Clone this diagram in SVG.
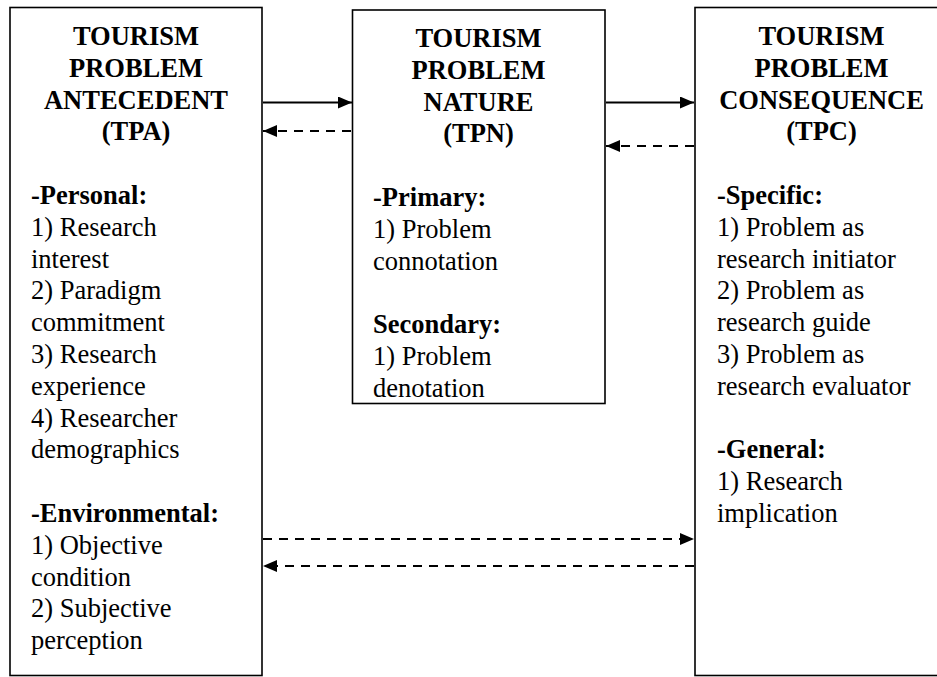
<svg xmlns="http://www.w3.org/2000/svg" width="937" height="677" viewBox="0 0 937 677">
<style>
.box{fill:#fff;stroke:#000;stroke-width:1.6}
text{font-size:26.5px;fill:#000}
.t{font-weight:bold;text-anchor:middle}
.b{font-weight:bold}
.ln{stroke:#000;stroke-width:2;fill:none}
.d{stroke-dasharray:9 7}
</style>
<defs>
<marker id="ah" viewBox="0 0 14 12" refX="14" refY="6" markerWidth="14" markerHeight="12" markerUnits="userSpaceOnUse" orient="auto">
<path d="M0,0 L14,6 L0,12 Z" fill="#000"/>
</marker>
</defs>
<rect width="937" height="677" fill="#fff"/>
<g font-family="'Liberation Serif', Tinos, 'Times New Roman', Times, serif">
<g id="tpa">
<rect class="box" x="10" y="7.5" width="252" height="668"/>
<text class="t" x="136" y="45">TOURISM</text>
<text class="t" x="136" y="76.8">PROBLEM</text>
<text class="t" x="136" y="108.6">ANTECEDENT</text>
<text class="t" x="136" y="140.4">(TPA)</text>
<text class="b" x="31" y="204">-Personal:</text>
<text x="31" y="235.8">1) Research</text>
<text x="31" y="267.6">interest</text>
<text x="31" y="299.4">2) Paradigm</text>
<text x="31" y="331.2">commitment</text>
<text x="31" y="363">3) Research</text>
<text x="31" y="394.8">experience</text>
<text x="31" y="426.6">4) Researcher</text>
<text x="31" y="458.4">demographics</text>
<text class="b" x="31" y="522">-Environmental:</text>
<text x="31" y="553.8">1) Objective</text>
<text x="31" y="585.6">condition</text>
<text x="31" y="617.4">2) Subjective</text>
<text x="31" y="649.2">perception</text>
</g>
<g id="tpn">
<rect class="box" x="352.5" y="10" width="252.5" height="393.5"/>
<text class="t" x="478.5" y="47">TOURISM</text>
<text class="t" x="478.5" y="78.8">PROBLEM</text>
<text class="t" x="478.5" y="110.6">NATURE</text>
<text class="t" x="478.5" y="142.4">(TPN)</text>
<text class="b" x="373" y="206">-Primary:</text>
<text x="373" y="237.8">1) Problem</text>
<text x="373" y="269.6">connotation</text>
<text class="b" x="373" y="333.2">Secondary:</text>
<text x="373" y="365">1) Problem</text>
<text x="373" y="396.8">denotation</text>
</g>
<g id="tpc">
<rect class="box" x="695" y="7.5" width="253" height="668"/>
<text class="t" x="821.5" y="45">TOURISM</text>
<text class="t" x="821.5" y="76.8">PROBLEM</text>
<text class="t" x="821.5" y="108.6">CONSEQUENCE</text>
<text class="t" x="821.5" y="140.4">(TPC)</text>
<text class="b" x="717" y="204">-Specific:</text>
<text x="717" y="235.8">1) Problem as</text>
<text x="717" y="267.6">research initiator</text>
<text x="717" y="299.4">2) Problem as</text>
<text x="717" y="331.2">research guide</text>
<text x="717" y="363">3) Problem as</text>
<text x="717" y="394.8">research evaluator</text>
<text class="b" x="717" y="458.4">-General:</text>
<text x="717" y="490.2">1) Research</text>
<text x="717" y="522">implication</text>
</g>
</g>
<g id="connectors">
<line class="ln" x1="263" y1="102.5" x2="352" y2="102.5" marker-end="url(#ah)"/>
<line class="ln d" x1="351" y1="131" x2="263" y2="131" marker-end="url(#ah)"/>
<line class="ln" x1="606" y1="102.5" x2="694" y2="102.5" marker-end="url(#ah)"/>
<line class="ln d" x1="694" y1="146" x2="606" y2="146" marker-end="url(#ah)"/>
<line class="ln d" x1="263" y1="539" x2="694" y2="539" marker-end="url(#ah)"/>
<line class="ln d" x1="694" y1="566" x2="263" y2="566" marker-end="url(#ah)"/>
</g>
</svg>
